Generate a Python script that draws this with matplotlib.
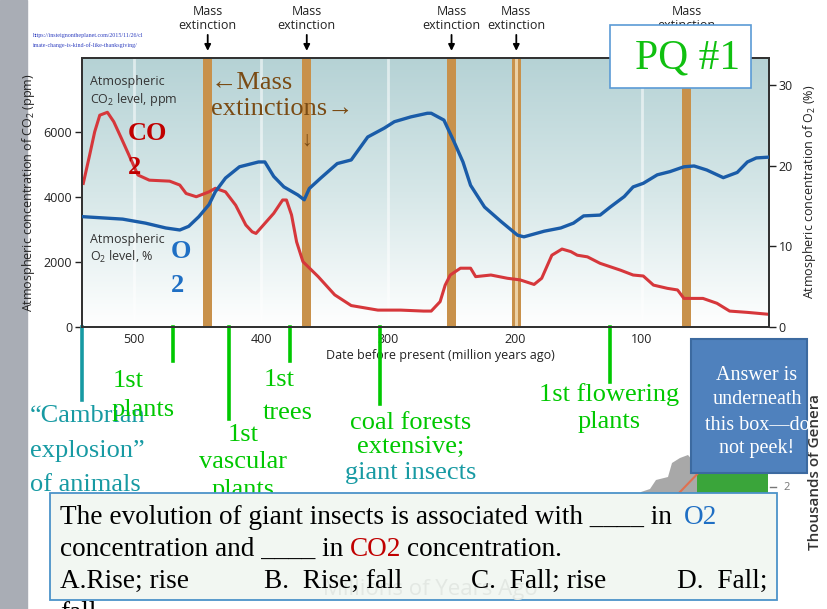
import numpy as np
import matplotlib
matplotlib.use('Agg')
import matplotlib.pyplot as plt
from matplotlib.colors import LinearSegmentedColormap
from matplotlib.patches import Rectangle, Polygon
import matplotlib.transforms as mtransforms

plt.rcParams['mathtext.fontset'] = 'custom'
plt.rcParams['mathtext.rm'] = 'Open Sans'
plt.rcParams['mathtext.default'] = 'regular'

# ---------------- data ----------------
co2_ma = [540, 535, 531, 527, 521, 516, 510, 504, 497, 488, 472, 464, 459, 451, 441, 436, 428, 420,
          412, 407, 404, 397, 390, 383, 380, 376, 372, 367, 355, 342, 329, 308, 290, 272, 266, 259,
          255, 251, 243, 235, 231, 219, 206, 196, 185, 179, 171, 163, 156, 151, 143, 133, 117, 107,
          99, 91, 80, 72, 67, 52, 41, 31, 17, 0]
co2_ppm = [4420, 5290, 6010, 6520, 6610, 6320, 5810, 5290, 4680, 4520, 4490, 4370, 4110, 4010, 4160,
           4270, 4160, 3750, 3140, 2930, 2880, 3190, 3500, 3910, 3910, 3450, 2620, 2010, 1550, 990,
           660, 520, 520, 490, 490, 780, 1290, 1600, 1810, 1810, 1550, 1600, 1500, 1450, 1310, 1500,
           2210, 2400, 2320, 2210, 2160, 1960, 1750, 1600, 1570, 1290, 1190, 1140, 880, 880, 730,
           490, 450, 390]

o2_ma = [540, 509, 491, 475, 464, 457, 449, 441, 436, 428, 417, 402, 397, 390, 382, 371, 366, 362,
         353, 340, 329, 316, 303, 295, 282, 269, 266, 256, 248, 241, 235, 224, 211, 198, 193, 177,
         164, 154, 146, 133, 125, 114, 107, 99, 88, 78, 67, 59, 49, 36, 25, 17, 10, 0]
o2_pct = [13.7, 13.4, 12.9, 12.3, 12.05, 12.5, 13.7, 15.2, 16.8, 18.5, 19.9, 20.5, 20.5, 18.7, 17.4,
          16.4, 15.8, 17.2, 18.5, 20.3, 20.75, 23.6, 24.7, 25.5, 26.1, 26.55, 26.55, 25.7, 23.0,
          20.5, 17.6, 14.9, 13.1, 11.4, 11.2, 11.9, 12.3, 12.9, 13.8, 13.9, 14.9, 16.2, 17.4, 17.85,
          18.9, 19.3, 19.9, 20.0, 19.5, 18.55, 19.2, 20.5, 21.0, 21.1]

extinction_ma = [442, 364, 250, 199, 65]
x_ticks = [500, 400, 300, 200, 100]
co2_ticks = [0, 2000, 4000, 6000]
o2_ticks = [0, 10, 20, 30]

event_ma = [541, 469, 425, 377, 306, 125]
event_depth = [0.272, 0.125, 0.34, 0.125, 0.285, 0.205]
event_color = ['#179aa3', '#00c800', '#00c800', '#00c800', '#00c800', '#00c800']

# ---------------- figure ----------------
W, H = 828, 609
fig = plt.figure(figsize=(W / 100, H / 100), dpi=100)
fig.patch.set_facecolor('white')

SANS = ['Open Sans', 'DejaVu Sans']
SERIF = ['Liberation Serif', 'DejaVu Serif']

bg = fig.add_axes([0, 0, 1, 1], zorder=0)
bg.set_xlim(0, W); bg.set_ylim(H, 0); bg.axis('off')
bg.add_patch(Rectangle((0, 0), 27, H, color='#a9adb5'))

L, T, R, B = 82, 57.7, 769, 327
ax = fig.add_axes([L / W, 1 - B / H, (R - L) / W, (B - T) / H], zorder=1)
XMAX, XMIN = 541, 0
YMAX = 8290
ax.set_xlim(XMAX, XMIN)
ax.set_ylim(0, YMAX)

cmap = LinearSegmentedColormap.from_list('bgc', ['#ffffff', '#d6e7e8', '#b5d2d5'])
grad = np.linspace(0, 1, 256).reshape(-1, 1)
ax.imshow(grad, extent=[XMAX, XMIN, 0, YMAX], origin='lower', aspect='auto', cmap=cmap, zorder=0)

for xv in x_ticks:
    ax.axvline(xv, color='white', lw=2, alpha=0.55, zorder=0.5)

for m in extinction_ma:
    ax.axvspan(m - 3.6, m + 3.6, color='#c8914b', zorder=1, lw=0)
ax.axvspan(extinction_ma[3] - 1.2, extinction_ma[3] + 1.2, color='#ecd1a6', zorder=1.1, lw=0)

ax.plot(co2_ma, co2_ppm, color='#d6373b', lw=2.2, zorder=3, solid_joinstyle='round')

ax2 = ax.twinx()
ax2.set_ylim(0, 33.45)
ax2.plot(o2_ma, o2_pct, color='#1a5ca8', lw=2.4, zorder=3, solid_joinstyle='round')

ax.set_xticks(x_ticks)
ax.set_yticks(co2_ticks)
ax2.set_yticks(o2_ticks)
for a in (ax, ax2):
    for s in a.spines.values():
        s.set_color('#333333'); s.set_linewidth(1.4)
    for lab in a.get_xticklabels() + a.get_yticklabels():
        lab.set_family(SANS)
ax.tick_params(axis='y', direction='out', length=5, width=1, pad=2, labelsize=9, colors='#222222')
ax.tick_params(axis='x', length=0, pad=4, labelsize=9, colors='#222222')
ax2.tick_params(axis='y', direction='out', length=5, width=1, pad=2, labelsize=9, colors='#222222')

ax.set_ylabel('Atmospheric concentration of CO$_2$ (ppm)', fontsize=9, family=SANS, color='#222', labelpad=5)
ax2.set_ylabel('Atmospheric concentration of O$_2$ (%)', fontsize=9, family=SANS, color='#222', labelpad=6)
ax.set_xlabel('Date before present (million years ago)', fontsize=9, family=SANS, color='#222')
ax.xaxis.set_label_coords((440 - L) / (R - L), -0.08)

blend = mtransforms.blended_transform_factory(ax.transData, ax.transAxes)
for m in extinction_ma:
    ax.text(m, 1.145, 'Mass\nextinction', transform=blend, ha='center', va='center',
            fontsize=9, family=SANS, color='#222', linespacing=1.15, clip_on=False)
    ax.annotate('', xy=(m, 1.015), xytext=(m, 1.095), xycoords=blend, textcoords=blend,
                arrowprops=dict(arrowstyle='-|>', color='black', lw=1.3, mutation_scale=9),
                annotation_clip=False)

for m, d, c in zip(event_ma, event_depth, event_color):
    ax.plot([m, m], [0, -d], transform=blend, color=c, lw=2.6, clip_on=False, zorder=5)

# ---------------- overlay (pixel coordinates) ----------------
ov = fig.add_axes([0, 0, 1, 1], zorder=5)
ov.set_xlim(0, W); ov.set_ylim(H, 0); ov.axis('off')

ov.text(33, 36, 'https://insteignontheplanet.com/2015/11/26/cl', fontsize=4.3, color='#3040c0',
        family=SERIF, va='center')
ov.text(33, 45, 'imate-change-is-kind-of-like-thanksgiving/', fontsize=4.3, color='#3040c0',
        family=SERIF, va='center')

# in-plot labels
ov.text(90, 81, 'Atmospheric', fontsize=9, family=SANS, color='#333', va='center')
ov.text(90, 99, 'CO$_2$ level, ppm', fontsize=9, family=SANS, color='#333', va='center')
ov.text(90, 239, 'Atmospheric', fontsize=9, family=SANS, color='#333', va='center')
ov.text(90, 257, 'O$_2$ level, %', fontsize=9, family=SANS, color='#333', va='center')

ov.text(128, 133, 'CO', fontsize=19, family=SERIF, weight='bold', color='#c00000', va='center')
ov.text(128, 168, '2', fontsize=19, family=SERIF, weight='bold', color='#c00000', va='center')
ov.text(171, 251, 'O', fontsize=19, family=SERIF, weight='bold', color='#1f6fc4', va='center')
ov.text(171, 286, '2', fontsize=19, family=SERIF, weight='bold', color='#1f6fc4', va='center')

brown = '#7a4b14'
ov.text(211, 83, '\u2190Mass', fontsize=19, family=SERIF, color=brown, va='center')
ov.text(211, 109, 'extinctions\u2192', fontsize=19, family=SERIF, color=brown, va='center')
ov.text(307, 141, '\u2193', fontsize=15, family=SERIF, color=brown, va='center', ha='center')

# event annotations
G = '#00c800'
TEAL = '#179aa3'
fs = 19
ov.text(113, 381, '1st', fontsize=fs, family=SERIF, color=G, va='center')
ov.text(30, 416, '\u201cCambrian', fontsize=fs, family=SERIF, color=TEAL, va='center')
ov.text(112, 410, 'plants', fontsize=fs, family=SERIF, color=G, va='center')
ov.text(30, 451, 'explosion\u201d', fontsize=fs, family=SERIF, color=TEAL, va='center')
ov.text(30, 485, 'of animals', fontsize=fs, family=SERIF, color=TEAL, va='center')
ov.text(243, 435, '1st', fontsize=fs, family=SERIF, color=G, va='center', ha='center')
ov.text(243, 462, 'vascular', fontsize=fs, family=SERIF, color=G, va='center', ha='center')
ov.text(243, 490, 'plants', fontsize=fs, family=SERIF, color=G, va='center', ha='center')
ov.text(264, 380, '1st', fontsize=fs, family=SERIF, color=G, va='center')
ov.text(263, 413, 'trees', fontsize=fs, family=SERIF, color=G, va='center')
ov.text(411, 423, 'coal forests', fontsize=fs, family=SERIF, color=G, va='center', ha='center')
ov.text(411, 447, 'extensive;', fontsize=fs, family=SERIF, color=G, va='center', ha='center')
ov.text(411, 473, 'giant insects', fontsize=fs, family=SERIF, color=TEAL, va='center', ha='center')
ov.text(609, 395, '1st flowering', fontsize=fs, family=SERIF, color=G, va='center', ha='center')
ov.text(609, 422, 'plants', fontsize=fs, family=SERIF, color=G, va='center', ha='center')

# partially hidden genera chart
ov.add_patch(Polygon([(640, 520), (641, 492), (650, 489), (656, 480), (668, 477), (672, 463),
                      (680, 458), (688, 455), (694, 462), (697, 472), (697, 520)],
                     closed=True, fc='#a8a8a8', ec='none', zorder=1))
ov.add_patch(Rectangle((697, 472), 71, 70, fc='#3aa53a', ec='none', zorder=1))
ov.plot([655, 705], [518, 466], color='#e07050', lw=1.5, zorder=1.5)
ov.plot([770, 776], [487, 487], color='#777', lw=1, zorder=1)
ov.text(783, 487, '2', fontsize=8, family=SANS, color='#777', va='center', zorder=1)
ov.text(815, 472, 'Thousands of Genera', fontsize=11, family=SANS, color='#333', rotation=90,
        va='center', ha='center', weight='semibold', zorder=1)

# answer box
abox = Rectangle((691, 339), 116, 134, fc='#4f81bd', ec='#3c6aa0', lw=1.5, zorder=3)
ov.add_patch(abox)
for yy, s in zip([376, 400, 425, 449], ['Answer is', 'underneath', 'this box\u2014do', 'not peek!']):
    t = ov.text(757, yy, s, fontsize=14.5, family=SERIF, color='white', ha='center', va='center',
                zorder=4)
    t.set_clip_path(abox)

# question box
ov.add_patch(Rectangle((50, 493), 727, 107, fc='#f2f7f2', ec='#4b93c9', lw=1.3, zorder=5))
ov.text(430, 590, 'Millions of Years Ago', fontsize=16, family=SANS, color='#e3e8e3',
        ha='center', va='center', zorder=5.5)
qfs = 19.6
ov.text(60, 517, 'The evolution of giant insects is associated with ____ in ', fontsize=qfs,
        family=SERIF, color='black', va='center', zorder=6)
ov.text(684, 517, 'O2', fontsize=qfs, family=SERIF, color='#1f6fc4', va='center', zorder=6)
ov.text(60, 549, 'concentration and ____ in ', fontsize=qfs, family=SERIF, color='black',
        va='center', zorder=6)
ov.text(350, 549, 'CO2', fontsize=qfs, family=SERIF, color='#c00000', va='center', zorder=6)
ov.text(407, 549, 'concentration.', fontsize=qfs, family=SERIF, color='black', va='center', zorder=6)
for xx, s in zip([60, 264, 471, 677], ['A.Rise; rise', 'B.  Rise; fall', 'C.  Fall; rise', 'D.  Fall;']):
    ov.text(xx, 581, s, fontsize=qfs, family=SERIF, color='black', va='center', zorder=6)
ov.text(60, 614, 'fall', fontsize=qfs, family=SERIF, color='black', va='center', zorder=6)

# PQ box
ov.add_patch(Rectangle((610, 25), 141, 63, fc='white', ec='#5b9bd5', lw=1.2, zorder=7))
ov.text(688, 58, 'PQ #1', fontsize=30, family=SERIF, color='#10c010', ha='center', va='center',
        zorder=8)

fig.savefig('out.png', dpi=100)
